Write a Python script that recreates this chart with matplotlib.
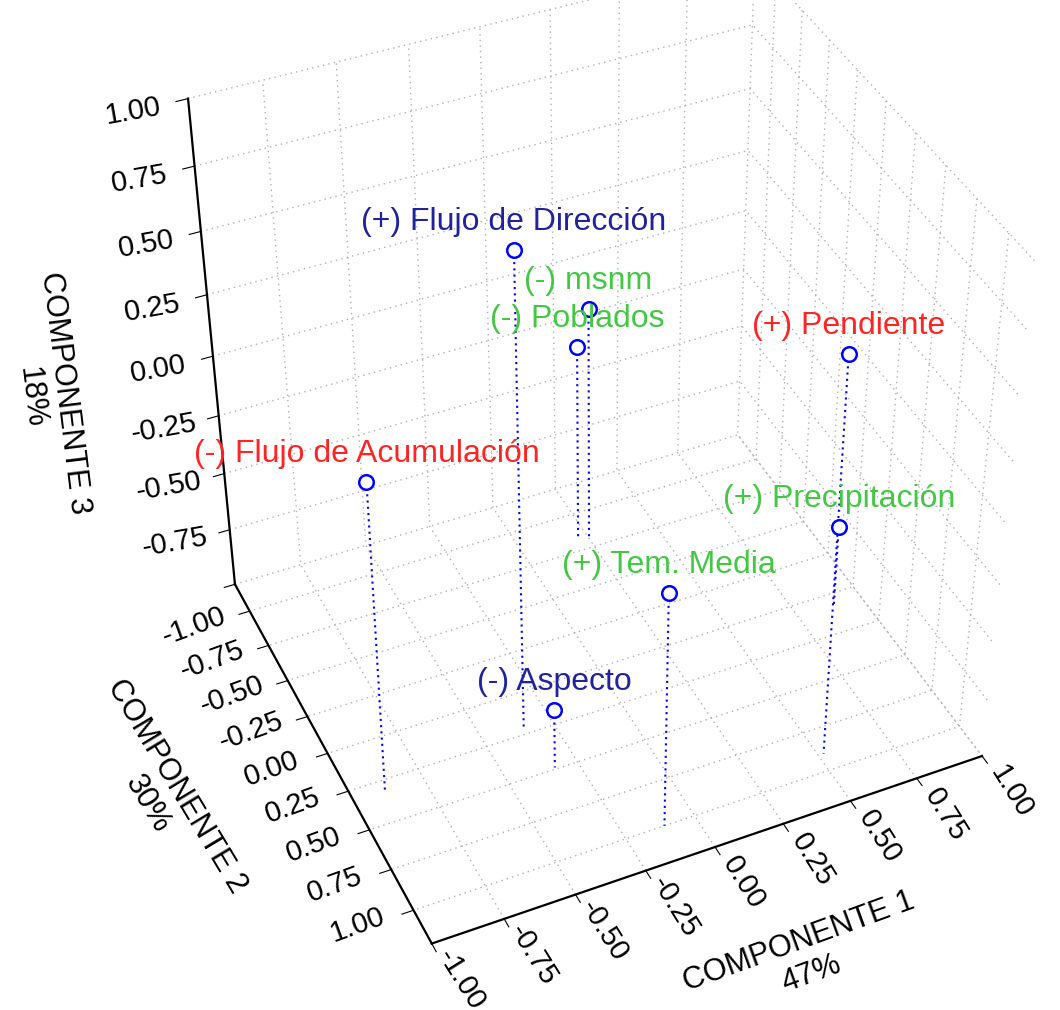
import matplotlib
matplotlib.use("Agg")
import matplotlib.pyplot as plt
from matplotlib import transforms
from mpl_toolkits.mplot3d import proj3d

# loadings (COMPONENTE 1, 2, 3)
labels = ["(-) Flujo de Acumulación", "(+) Flujo de Dirección", "(-) msnm",
          "(-) Poblados", "(+) Pendiente", "(+) Precipitación",
          "(+) Tem. Media", "(-) Aspecto"]
comp1 = [-0.89, -0.35, 0.25, 0.21, 0.52, 0.89, -0.11, -0.33]
comp2 = [0.32, 0.21, -0.81, -0.82, 0.90, 0.08, 1.00, 0.49]
comp3 = [0.31, 0.945, 0.01, -0.14, 0.655, -0.64, 0.00, -0.74]
label_colors = ["#ff2424", "#22229a", "#44c844", "#44c844", "#ff2424",
                "#44c844", "#44c844", "#22229a"]

tick_vals = [-1.0, -0.75, -0.5, -0.25, 0.0, 0.25, 0.5, 0.75, 1.0]
tick_text = ["-1.00", "-0.75", "-0.50", "-0.25", "0.00", "0.25", "0.50", "0.75", "1.00"]

plt.rcParams['font.family'] = ['Liberation Sans', 'DejaVu Sans']
plt.rcParams['grid.color'] = '#b0b0b0'
plt.rcParams['grid.linestyle'] = (0, (1, 3))
plt.rcParams['grid.linewidth'] = 1.0

fig = plt.figure(figsize=(10.6, 10.1), dpi=100)
ax = fig.add_axes([0.051, 0.053, 1.0, 1.0], projection='3d', proj_type='persp',
                  focal_length=0.6)
ax.set_box_aspect((1, 0.925, 1.04), zoom=1.01)
ax.view_init(elev=40, azim=-114.5)

xlo, xhi = -1, 1
ylo, yhi = -1.2, 1.2
zlo, zhi = -1, 1
ax.set_xlim(xlo, xhi)
ax.set_ylim(yhi, ylo)
ax.set_zlim(zlo, zhi)

for axis in (ax.xaxis, ax.yaxis, ax.zaxis):
    axis.set_pane_color((1, 1, 1, 0))
    axis.pane.set_edgecolor('#b0b0b0')
    axis.pane.set_linestyle((0, (1, 3)))
    axis.line.set_color('black')
    axis.line.set_linewidth(1.6)
    axis._axinfo['tick']['inward_factor'] = 0.25
    axis._axinfo['tick']['outward_factor'] = 0.0

ax.set_xticks(tick_vals)
ax.set_yticks(tick_vals)
ax.set_zticks(tick_vals)
ax.set_xticklabels([""] * len(tick_vals))
ax.set_yticklabels([""] * len(tick_vals))
ax.set_zticklabels([""] * len(tick_vals))

# tick labels written next to the axes, offset in pixels like the original
M = ax.get_proj()


def tick_label(x, y, z, s, dx, dy, rot):
    px, py, _ = proj3d.proj_transform(x, y, z, M)
    ax.annotate(s, xy=(px, py), xycoords='data', xytext=(dx, dy),
                textcoords='offset pixels', fontsize=21, rotation=rot,
                ha='center', va='center', annotation_clip=False)


for v, s in zip(tick_vals, tick_text):
    tick_label(v, yhi, zlo, s, 29, -36, -58)
    tick_label(xlo, v, zlo, s, -56, -15, 20)
    if v > zlo:
        tick_label(xlo, ylo, v, s, -55, -13, 10)

# axis titles placed by hand, rotated along their axes
fig.text(805 / 1060, 1 - 958 / 1010, "COMPONENTE 1\n47%", fontsize=22,
         rotation=20, ha='center', va='center', multialignment='center')
fig.text(162 / 1060, 1 - 795 / 1010, "COMPONENTE 2\n30%", fontsize=22,
         rotation=-59, ha='center', va='center', multialignment='center')
fig.text(48 / 1060, 1 - 395 / 1010, "COMPONENTE 3\n18%", fontsize=22,
         rotation=-83, ha='center', va='center', multialignment='center')

# drop lines to the floor
for x, y, z in zip(comp1, comp2, comp3):
    ax.plot([x, x], [y, y], [z, zlo], linestyle=(0, (1, 2)), color='#0000ff', lw=1.5)

ax.scatter(comp1, comp2, comp3, s=110, facecolors='white', edgecolors='#0000ff',
           linewidths=1.8, depthshade=False, zorder=5)

offset = transforms.offset_copy(ax.transData, fig=fig, x=0, y=28, units='dots')
for x, y, z, lab, c in zip(comp1, comp2, comp3, labels, label_colors):
    ax.text(x, y, z, lab, color=c, fontsize=23, ha='center', va='center',
            transform=offset)

fig.savefig("out.png", dpi=100)
